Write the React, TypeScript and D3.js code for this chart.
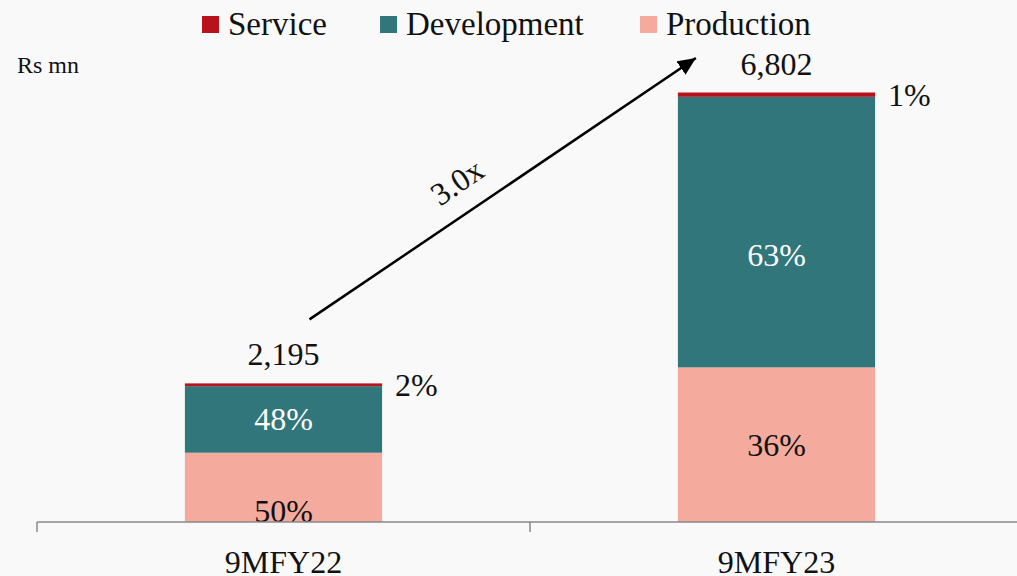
import React from 'react'
import * as d3 from 'd3'

// data (Rs mn, segment shares in %)
const categories = ['9MFY22', '9MFY23']
const totals = [2195, 6802]
const productionShare = [50, 36]
const developmentShare = [48, 63]
const serviceShare = [2, 1]
const seriesNames = ['Production', 'Development', 'Service']
const legendOrder = ['Service', 'Development', 'Production']
const growthLabel = '3.0x'
const unitLabel = 'Rs mn'

const W = 1017
const H = 576
const FONT = '"Liberation Serif", "Times New Roman", serif'
const colors: Record<string, string> = {
  Service: '#b8121b',
  Development: '#31767a',
  Production: '#f4ab9e',
}
const textColors: Record<string, string> = {
  Development: '#ffffff',
  Production: '#111111',
}
// small manual label nudges, like the hand-placed labels in the source
const insideNudge: Record<string, number> = {
  '9MFY22|Production': 24,
  '9MFY23|Development': 23,
}
const legendX = [202, 380, 640]

const App = () => {
  const x = d3.scaleBand().domain(categories).range([37, 1023]).paddingInner(0).paddingOuter(0)
  const y = d3.scaleLinear().domain([0, 7000]).range([522, 80])
  const barW = x.bandwidth() * 0.4

  const rows = categories.map((c, i) => ({
    cat: c,
    Production: (totals[i] * productionShare[i]) / 100,
    Development: (totals[i] * developmentShare[i]) / 100,
    Service: (totals[i] * serviceShare[i]) / 100,
    shares: {
      Production: productionShare[i],
      Development: developmentShare[i],
      Service: serviceShare[i],
    } as Record<string, number>,
  }))

  const stacked = d3.stack<any>().keys(seriesNames)(rows)
  const cx = (c: string) => (x(c) as number) + x.bandwidth() / 2

  // growth arrow, anchored on the two bars
  const x0 = cx(categories[0]) + 26
  const y0 = y(totals[0]) - 64
  const x1 = cx(categories[1]) - barW / 2 + 18
  const y1 = y(totals[1]) - 34.5
  const ang = (Math.atan2(y1 - y0, x1 - x0) * 180) / Math.PI
  const tx = 459
  const ty = 185

  return (
    <svg
      width={W}
      height={H}
      style={{ position: 'fixed', left: 0, top: 0, background: '#f9f9f9' }}
      fontFamily={FONT}
    >
      <defs>
        <marker
          id="arrowHead"
          markerUnits="userSpaceOnUse"
          markerWidth={20}
          markerHeight={16}
          refX={18}
          refY={8}
          orient="auto"
        >
          <path d="M0,0 L18,8 L0,16 Z" fill="#000" />
        </marker>
      </defs>

      {/* legend */}
      {legendOrder.map((k, i) => (
        <g key={k} transform={`translate(${legendX[i]},0)`}>
          <rect x={0} y={16} width={17} height={17} fill={colors[k]} />
          <text x={26} y={35} fontSize={33} fill="#111">
            {k}
          </text>
        </g>
      ))}

      <text x={17} y={73} fontSize={24} fill="#111">
        {unitLabel}
      </text>

      {/* bars */}
      {stacked.map((s) => (
        <g key={s.key}>
          {s.map((d: any) => (
            <rect
              key={d.data.cat}
              x={cx(d.data.cat) - barW / 2}
              y={y(d[1])}
              width={barW}
              height={y(d[0]) - y(d[1])}
              fill={colors[s.key]}
            />
          ))}
        </g>
      ))}

      {/* inside percentage labels */}
      {stacked
        .filter((s) => s.key !== 'Service')
        .map((s) =>
          s.map((d: any) => (
            <text
              key={s.key + d.data.cat}
              x={cx(d.data.cat)}
              y={(y(d[0]) + y(d[1])) / 2 + 11 + (insideNudge[d.data.cat + '|' + s.key] || 0)}
              textAnchor="middle"
              fontSize={32}
              fill={textColors[s.key]}
            >
              {d.data.shares[s.key]}%
            </text>
          ))
        )}

      {/* service share beside bar */}
      {rows.map((r, i) => (
        <text
          key={'svc' + r.cat}
          x={cx(r.cat) + barW / 2 + 13}
          y={y(totals[i]) + 13}
          fontSize={32}
          fill="#111"
        >
          {r.shares.Service}%
        </text>
      ))}

      {/* totals */}
      {rows.map((r, i) => (
        <text
          key={'tot' + r.cat}
          x={cx(r.cat)}
          y={y(totals[i]) - 18}
          textAnchor="middle"
          fontSize={32}
          fill="#111"
        >
          {d3.format(',')(totals[i])}
        </text>
      ))}

      {/* axis */}
      <line x1={37} x2={W} y1={522} y2={522} stroke="#888" strokeWidth={1.5} />
      {categories.map((c) => (
        <line
          key={'tk' + c}
          x1={x(c)}
          x2={x(c)}
          y1={522}
          y2={532}
          stroke="#888"
          strokeWidth={1.5}
        />
      ))}
      {categories.map((c) => (
        <text key={'lb' + c} x={cx(c)} y={573} textAnchor="middle" fontSize={32} fill="#111">
          {c}
        </text>
      ))}

      {/* growth arrow */}
      <line x1={x0} y1={y0} x2={x1} y2={y1} stroke="#000" strokeWidth={2.5} markerEnd="url(#arrowHead)" />
      <text
        x={tx}
        y={ty}
        transform={`rotate(${ang},${tx},${ty})`}
        textAnchor="middle"
        dominantBaseline="middle"
        fontSize={32}
        fill="#111"
      >
        {growthLabel}
      </text>
    </svg>
  )
}

export default App
